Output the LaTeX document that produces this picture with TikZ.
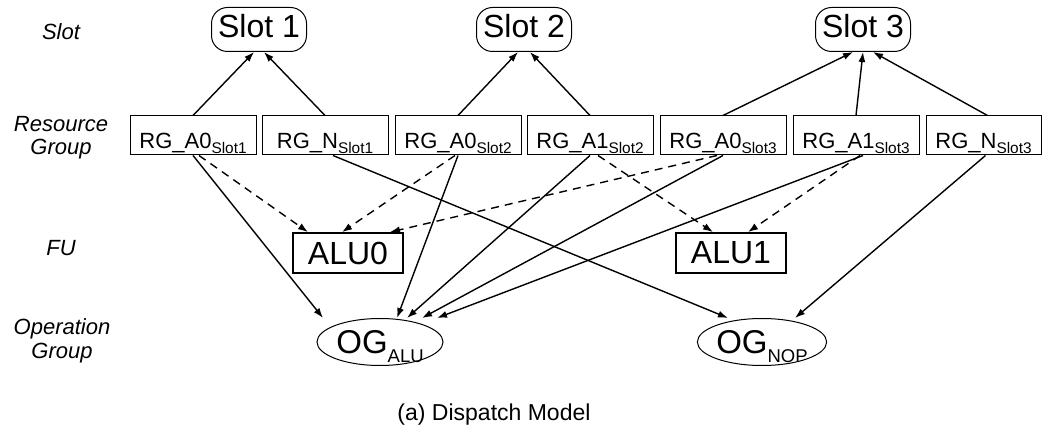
\documentclass[tikz,border=0pt]{standalone}
\usepackage{fontspec}
\setmainfont{Liberation Sans}
\usetikzlibrary{shapes.geometric,arrows.meta}

% lowered subscripts that do not change the height of the text box
\newcommand{\rgsub}[1]{\raisebox{-4.5pt}[0pt][0pt]{\fontsize{15.4}{16}\selectfont #1}}
\newcommand{\ogsub}[1]{\raisebox{-9pt}[0pt][0pt]{\fontsize{18.5}{20}\selectfont #1}}

\begin{document}
\begin{tikzpicture}[x=1pt,y=-1pt,
  slotbox/.style={draw, rounded corners=16pt, line width=1pt, minimum width=95pt,
    minimum height=44pt, inner sep=0pt, text height=22pt, text depth=6pt,
    font=\fontsize{32}{36}\selectfont},
  rgbox/.style={draw, line width=1pt, minimum width=126pt, minimum height=39pt,
    inner sep=0pt, text height=27pt, text depth=0pt,
    font=\fontsize{22}{26}\selectfont},
  fubox/.style={draw, line width=1.8pt, minimum width=110pt, minimum height=40pt,
    inner sep=0pt, font=\fontsize{32}{36}\selectfont},
  ogshape/.style={draw, ellipse, line width=1pt, minimum width=126pt,
    minimum height=47pt, inner sep=0pt, font=\fontsize{33}{36}\selectfont},
  rowlabel/.style={align=center, font=\fontsize{22}{23.5}\selectfont\itshape},
  link/.style={line width=1.4pt, -{Latex[length=10pt,width=7pt]}},
  fulink/.style={link, dash pattern=on 8pt off 6pt},
]
\useasboundingbox (0,0) rectangle (1042,430);

% row labels
\node[rowlabel] (lslot) at (61,32) {Slot};
\node[rowlabel] (lrg)   at (61,137.5) {Resource\\Group};
\node[rowlabel] (lfu)   at (61,248) {FU};
\node[rowlabel] (log)   at (62,341) {Operation\\Group};

% slots
\node[slotbox] (s1) at (259,29.5) {Slot 1};
\node[slotbox] (s2) at (524,29.5) {Slot 2};
\node[slotbox] (s3) at (863,29.5) {Slot 3};

% resource groups
\node[rgbox] (rg1) at (193,135.5) {RG\_A0\rgsub{Slot1}};
\node[rgbox] (rg2) at (325,135.5) {RG\_N\rgsub{Slot1}};
\node[rgbox] (rg3) at (458,135.5) {RG\_A0\rgsub{Slot2}};
\node[rgbox] (rg4) at (590,135.5) {RG\_A1\rgsub{Slot2}};
\node[rgbox] (rg5) at (723,135.5) {RG\_A0\rgsub{Slot3}};
\node[rgbox] (rg6) at (856,135.5) {RG\_A1\rgsub{Slot3}};
\node[rgbox, minimum width=115pt] (rg7) at (983.5,135.5) {RG\_N\rgsub{Slot3}};

% functional units
\node[fubox] (alu0) at (348,253) {ALU0};
\node[fubox] (alu1) at (731,253) {ALU1};

% operation groups
\node[ogshape] (og1) at (380,342) {OG\ogsub{ALU}};
\node[ogshape] (og2) at (762,342) {OG\ogsub{NOP}};

% caption
\node[font=\fontsize{23}{26}\selectfont] (cap) at (494,415) {(a) Dispatch Model};

% resource groups to slots
\draw[link] (rg1.north) -- ([xshift=-5pt]s1.south);
\draw[link] (rg2.north) -- ([xshift=5pt]s1.south);
\draw[link] (rg3.north) -- ([xshift=-6pt]s2.south);
\draw[link] (rg4.north) -- ([xshift=6pt]s2.south);
\draw[link] (rg5.north) -- ([xshift=-10pt]s3.south);
\draw[link] (rg6.north) -- (s3.south);
\draw[link] ([xshift=4pt]rg7.north) -- ([xshift=10pt]s3.south);

% resource groups to functional units
\draw[fulink] ([xshift=6pt]rg1.south) -- ([xshift=-40pt]alu0.north);
\draw[fulink] ([xshift=-3pt]rg3.south) -- ([xshift=-6pt]alu0.north);
\draw[fulink] ([xshift=-6pt]rg5.south) -- ([xshift=42pt]alu0.north);
\draw[fulink] ([xshift=8pt]rg4.south) -- ([xshift=-18pt]alu1.north);
\draw[fulink] ([xshift=4pt]rg6.south) -- ([xshift=17pt]alu1.north);

% resource groups to operation groups
\draw[link] (rg1.south) -- ([xshift=-57pt]og1.north);
\draw[link] (rg3.south) -- ([xshift=17pt]og1.north);
\draw[link] (rg4.south) -- ([xshift=27pt]og1.north);
\draw[link] (rg5.south) -- ([xshift=42pt]og1.north);
\draw[link] ([xshift=7pt]rg6.south) -- ([xshift=57pt]og1.north);
\draw[link] ([xshift=8pt]rg2.south) -- ([xshift=-34pt]og2.north);
\draw[link] ([xshift=2pt]rg7.south) -- ([xshift=33pt]og2.north);
\end{tikzpicture}
\end{document}
